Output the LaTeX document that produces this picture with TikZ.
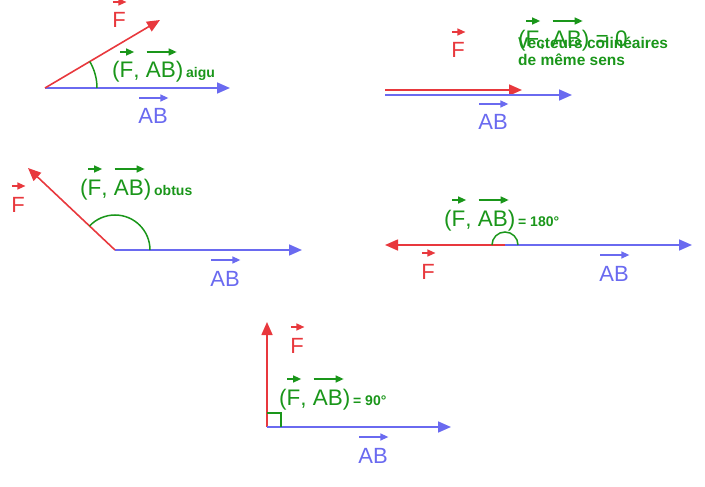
\documentclass[tikz,border=0pt]{standalone}
\usepackage{fontspec}
\setmainfont{Liberation Sans}
\usetikzlibrary{arrows.meta,calc}
\definecolor{rd}{HTML}{E8383D}
\definecolor{bl}{HTML}{6A6AF0}
\definecolor{gr}{HTML}{1A961A}
\newcommand\vect[1]{\setbox0\hbox{#1}\vbox{\hbox to\wd0{\raisebox{0pt}[4pt][0pt]{\tikz[baseline=0pt]\draw[line width=1.4pt,-{Triangle[length=8pt,width=7pt]}](0,0)--(\wd0,0);}\hss}\kern2pt\box0}}
\tikzset{
 vr/.style={draw=rd,line width=1.6pt,-{Triangle[length=13pt,width=11pt]}},
 vb/.style={draw=bl,line width=1.6pt,-{Triangle[length=13pt,width=11pt]}},
 ang/.style={draw=gr,line width=1.5pt},
 lbl/.style={inner sep=0pt,font=\fontsize{22}{24}\selectfont},
 glbl/.style={inner sep=0pt,text=gr,font=\fontsize{22.5}{24}\selectfont},
 sm/.style={inner sep=0pt,text=gr,font=\bfseries\fontsize{14}{16}\selectfont},
}
\begin{document}
\begin{tikzpicture}[x=1pt,y=-1pt]
\useasboundingbox (0,0) rectangle (705,487);
% 1
\coordinate (o1) at (45,88);
\coordinate (b1) at (230,88);
\coordinate (r1) at (160,20);
\draw[vb] (o1) -- (b1);
\draw[vr] (o1) -- (r1);
\draw[ang] ($(o1)+(52,0)$) arc[start angle=0,end angle=-30.6,radius=52];
\node[lbl,text=rd,anchor=base] (f1) at (119,28) {\vect{F}};
\node[lbl,text=bl,anchor=base] (a1) at (153,124) {\vect{AB}};
\node[glbl,anchor=base west] (g1) at (112,78) {(\vect{F}, \vect{AB})};
\node[sm,anchor=base west] (s1) at (g1.base east) {\,aigu};
% 2
\coordinate (o2) at (385,90);
\draw[vr] (o2) -- (522,90);
\draw[vb] (385,95) -- (572,95);
\node[lbl,text=rd,anchor=base] (f2) at (458,58) {\vect{F}};
\node[lbl,text=bl,anchor=base] (a2) at (493,130) {\vect{AB}};
\node[glbl,anchor=base west] (g2) at (518,47) {(\vect{F}, \vect{AB}) = 0};
\node[sm,anchor=base west,align=left,font=\bfseries\fontsize{15.5}{17}\selectfont] (s2) at (518,66) {Vecteurs colinéaires\\de même sens};
% 3
\coordinate (o3) at (115,250);
\draw[vb] (o3) -- (302,250);
\draw[vr] (o3) -- (28,168);
\draw[ang] ($(o3)+(35,0)$) arc[start angle=0,end angle=-136.7,radius=35];
\node[lbl,text=rd,anchor=base] (f3) at (18,212) {\vect{F}};
\node[lbl,text=bl,anchor=base] (a3) at (225,286) {\vect{AB}};
\node[glbl,anchor=base west] (g3) at (80,195) {(\vect{F}, \vect{AB})};
\node[sm,anchor=base west] (s3) at (g3.base east) {\,obtus};
% 4
\coordinate (o4) at (505,245);
\draw[vr] (o4) -- (385,245);
\draw[vb] (o4) -- (692,245);
\draw[ang] ($(o4)+(13,0)$) arc[start angle=0,end angle=-180,radius=13];
\node[lbl,text=rd,anchor=base] (f4) at (428,279) {\vect{F}};
\node[lbl,text=bl,anchor=base] (a4) at (614,281) {\vect{AB}};
\node[glbl,anchor=base west] (g4) at (444,226) {(\vect{F}, \vect{AB})};
\node[sm,anchor=base west] (s4) at (g4.base east) {\,= 180°};
% 5
\coordinate (o5) at (267,427);
\draw[vr] (o5) -- (267,322);
\draw[vb] (o5) -- (451,427);
\draw[ang] (267,413) -- (281,413) -- (281,427);
\node[lbl,text=rd,anchor=base] (f5) at (297,353) {\vect{F}};
\node[lbl,text=bl,anchor=base] (a5) at (373,463) {\vect{AB}};
\node[glbl,anchor=base west] (g5) at (279,405) {(\vect{F}, \vect{AB})};
\node[sm,anchor=base west] (s5) at (g5.base east) {\,= 90°};
\end{tikzpicture}
\end{document}
